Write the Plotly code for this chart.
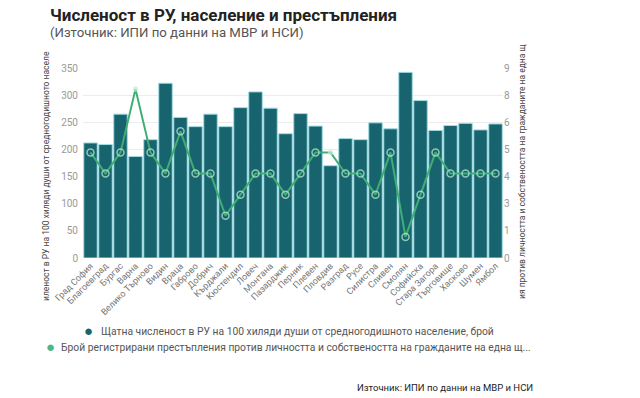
import plotly.graph_objects as go

regions = ["Град София", "Благоевград", "Бургас", "Варна", "Велико Търново", "Видин", "Враца",
           "Габрово", "Добрич", "Кърджали", "Кюстендил", "Ловеч", "Монтана", "Пазарджик",
           "Перник", "Плевен", "Пловдив", "Разград", "Русе", "Силистра", "Сливен", "Смолян",
           "Софийска", "Стара Загора", "Търговище", "Хасково", "Шумен", "Ямбол"]
staff = [212, 209, 265, 187, 218, 322, 259, 242, 265, 242, 277, 306, 276, 229,
         266, 243, 170, 220, 218, 249, 238, 342, 290, 235, 244, 248, 236, 247]
crimes = [5, 4, 5, 8, 5, 4, 6, 4, 4, 2, 3, 4, 4, 3,
          4, 5, 5, 4, 4, 3, 5, 1, 3, 5, 4, 4, 4, 4]
right_ticks = [0, 1, 3, 4, 5, 6, 8, 9]

name1 = "Щатна численост в РУ на 100 хиляди души от средногодишното население, брой"
name2 = "Брой регистрирани престъпления против личността и собствеността на гражданите на една щ..."
title = "Численост в РУ, население и престъпления"
subtitle = "(Източник: ИПИ по данни на МВР и НСИ)"
source = "Източник: ИПИ по данни на МВР и НСИ"
ytitle_left = "иленост в РУ на 100 хиляди души от средногодишното населе"
ytitle_right = "ия против личността и собствеността на гражданите на една щ"

BAR = "#17646e"
GREEN = "#3fae74"
LEG_GREEN = "#4cb884"
FONT = "Roboto"

marker_sizes = [7 if r not in ("Варна", "Пловдив") else 4 for r in regions]
marker_fill = ["rgba(0,0,0,0)" if r not in ("Варна", "Пловдив") else "#b8ecd0" for r in regions]

fig = go.Figure()
fig.add_trace(go.Bar(x=regions, y=staff, marker=dict(color=BAR, line=dict(color="#9fdce4", width=1)),
                     showlegend=False, yaxis="y", name=name1))
fig.add_trace(go.Scatter(x=regions, y=crimes, yaxis="y2", mode="lines+markers", name=name2,
                         line=dict(color=GREEN, width=2),
                         marker=dict(size=marker_sizes, color=marker_fill, line=dict(color="#c2f0d6", width=1.5)),
                         showlegend=False))


def px_x(px):
    return (px - 83) / 420


def px_y(py):
    return (258 - py) / 190


annotations = [
    dict(text="<b>" + title + "</b>", x=px_x(48), y=px_y(15), xanchor="left",
         font=dict(size=17, color="#222")),
    dict(text=subtitle, x=px_x(48), y=px_y(32.5), xanchor="left",
         font=dict(size=13.2, color="#555")),
    dict(text=source, x=px_x(535), y=px_y(387), xanchor="right",
         font=dict(size=9.5, color="#222")),
    dict(text="●", x=px_x(88), y=px_y(331), xanchor="center", font=dict(size=15, color=BAR)),
    dict(text=name1, x=px_x(99), y=px_y(331), xanchor="left", font=dict(size=10.3, color="#555")),
    dict(text="●", x=px_x(50), y=px_y(347), xanchor="center", font=dict(size=15, color=LEG_GREEN)),
    dict(text=name2, x=px_x(59), y=px_y(347), xanchor="left", font=dict(size=10.3, color="#555")),
    dict(text=ytitle_left, x=px_x(46), y=px_y(176), xanchor="center", textangle=-90,
         font=dict(size=8.5, color="#444")),
    dict(text=ytitle_right, x=px_x(522), y=px_y(172), xanchor="center", textangle=-90,
         font=dict(size=8.5, color="#444")),
]
for a in annotations:
    a.setdefault("yanchor", "middle")
    a.update(xref="paper", yref="paper", showarrow=False)

fig.update_layout(
    width=640, height=398,
    margin=dict(l=83, r=137, t=68, b=140),
    plot_bgcolor="white", paper_bgcolor="white",
    font=dict(family=FONT, color="#555"),
    bargap=0.1,
    showlegend=False,
    xaxis=dict(tickangle=-45, tickfont=dict(size=9, color="#777"), showgrid=False,
               showline=False, ticks="", range=[-0.5, len(regions) - 0.5], automargin=False),
    yaxis=dict(range=[0, 350], tickvals=[0, 50, 100, 150, 200, 250, 300, 350],
               tickfont=dict(size=10, color="#999"), gridcolor="#ececec", zeroline=False,
               ticklabelstandoff=4, automargin=False),
    yaxis2=dict(range=[0, 9], overlaying="y", side="right", automargin=False,
                tickvals=[9 * k / 7 for k in range(8)], ticktext=[str(t) for t in right_ticks],
                tickfont=dict(size=10, color="#999"), showgrid=False, zeroline=False),
    annotations=annotations,
)

fig.write_html("out.html", config={"displayModeBar": False},
               post_script="document.body.style.margin='0';")
